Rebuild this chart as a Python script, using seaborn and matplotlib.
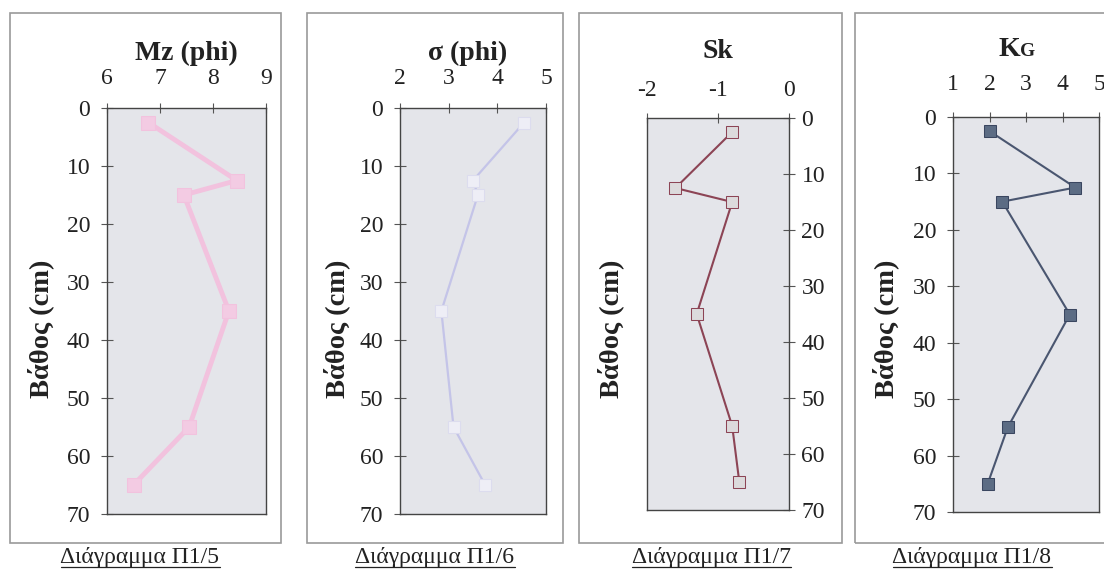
import matplotlib
matplotlib.use("Agg")
import matplotlib.pyplot as plt
import seaborn as sns
from matplotlib.patches import Rectangle
from matplotlib.lines import Line2D

# depth of each sample (cm)
depth = [2.5, 12.5, 15, 35, 55, 65]

# grain size parameters per depth
mz = [6.78, 8.45, 7.45, 8.3, 7.55, 6.5]
sigma = [4.55, 3.5, 3.6, 2.85, 3.1, 3.75]
sk = [-0.8, -1.6, -0.8, -1.3, -0.8, -0.7]
kg = [2.0, 4.35, 2.35, 4.2, 2.5, 1.95]

titles = ["Mz (phi)", "σ (phi)", "Sk", "K"]
captions = ["Διάγραμμα Π1/5", "Διάγραμμα Π1/6", "Διάγραμμα Π1/7", "Διάγραμμα Π1/8"]
xlims = [(6, 9), (2, 5), (-2, 0), (1, 5)]
yticks = [0, 10, 20, 30, 40, 50, 60, 70]

sns.set_theme(style="white")
plt.rcParams["font.family"] = ["Liberation Serif", "DejaVu Serif"]
plt.rcParams["axes.unicode_minus"] = False

W, H = 1104, 571
fig = plt.figure(figsize=(W / 100, H / 100), dpi=100)


def px_rect(x0, y0, x1, y1):
    return [x0 / W, 1 - y1 / H, (x1 - x0) / W, (y1 - y0) / H]


# axes boxes in pixels (left, top, right, bottom)
boxes = [(107, 108, 266, 514), (400, 108, 546, 514),
         (647, 118, 789, 510), (953, 117, 1099, 512)]
frames = [(10, 13, 281, 543), (307, 13, 563, 543),
          (579, 13, 842, 543), (855, 13, 1112, 543)]
values = [mz, sigma, sk, kg]
styles = [
    dict(color="#f2c2de", lw=3.5, marker="s", ms=10, mfc="#f3cbe3", mec="#f2c2de"),
    dict(color="#c4c4e8", lw=1.6, marker="s", ms=9, mfc="#eeeef6", mec="#dcdcee"),
    dict(color="#8c4455", lw=1.5, marker="s", ms=9, mfc="#dcdadc", mec="#8c4455"),
    dict(color="#4a5670", lw=1.5, marker="s", ms=8.5, mfc="#5c6c84", mec="#3a4660"),
]
xpads = [10, 10, 9, 12]
title_y = [53, 53, 52, 49]
ylab_x = [41, 337, 611, 886]
cap_x = [140, 435, 711, 972]
tick_font = 17

for f in frames:
    fig.add_artist(Rectangle((f[0] / W, 1 - f[3] / H), (f[2] - f[0]) / W, (f[3] - f[1]) / H,
                             transform=fig.transFigure, fill=False, ec="#9a9a9a", lw=1.2))

cap_texts = []
for i in range(4):
    l, t, r, b = boxes[i]
    ax = fig.add_axes(px_rect(l, t, r, b))
    ax.set_facecolor("#e4e5ea")
    sns.lineplot(x=values[i], y=depth, orient="y", estimator=None, ax=ax, **styles[i])
    ax.set_xlim(*xlims[i])
    ax.set_ylim(70, 0)
    ax.set_yticks(yticks)
    ax.set_xticks(range(xlims[i][0], xlims[i][1] + 1))
    ax.xaxis.tick_top()
    ax.tick_params(axis="x", top=True, bottom=False, labeltop=True, labelbottom=False,
                   direction="inout", length=7, width=0.8, color="#555", pad=xpads[i],
                   labelsize=tick_font, labelcolor="#222")
    if i == 2:
        ax.yaxis.tick_right()
        ax.tick_params(axis="y", right=True, left=False, labelright=True, labelleft=False,
                       direction="inout", length=8, width=0.8, color="#555", pad=5,
                       labelsize=tick_font, labelcolor="#222")
    else:
        ax.tick_params(axis="y", left=True, direction="inout", length=8, width=0.8,
                       color="#555", pad=8, labelsize=tick_font, labelcolor="#222")
    ax.set_xlabel("")
    ax.set_ylabel("")
    for s in ax.spines.values():
        s.set_color("#444")
        s.set_linewidth(1.0)

    cx = (l + r) / 2 / W
    if i == 3:
        tk = fig.text(cx - 17 / W, 1 - title_y[i] / H, "K", ha="center", va="center",
                      fontsize=20, fontweight="bold", color="#222")
        ax.annotate("G", xy=(1, 0.08), xycoords=tk, ha="left", va="bottom",
                    fontsize=14, fontweight="bold", color="#222", annotation_clip=False)
    else:
        fig.text(cx - (0.005 if i == 1 else 0), 1 - title_y[i] / H, titles[i],
                 ha="center", va="center", fontsize=20, fontweight="bold", color="#222")

    fig.text(ylab_x[i] / W, 1 - 329 / H, "Βάθος (cm)", rotation=90, ha="center",
             va="center", fontsize=20.5, fontweight="bold", color="#222")
    cap_texts.append(fig.text(cap_x[i] / W, 1 - 557 / H, captions[i], ha="center",
                              va="center", fontsize=17, color="#222"))

# underline the captions
fig.canvas.draw()
renderer = fig.canvas.get_renderer()
for t in cap_texts:
    bb = t.get_window_extent(renderer)
    y = (bb.y0 + 1) / H
    fig.add_artist(Line2D([bb.x0 / W, bb.x1 / W], [y, y], transform=fig.transFigure,
                          color="#222", lw=0.9))

plt.savefig("out.png", dpi=100)
